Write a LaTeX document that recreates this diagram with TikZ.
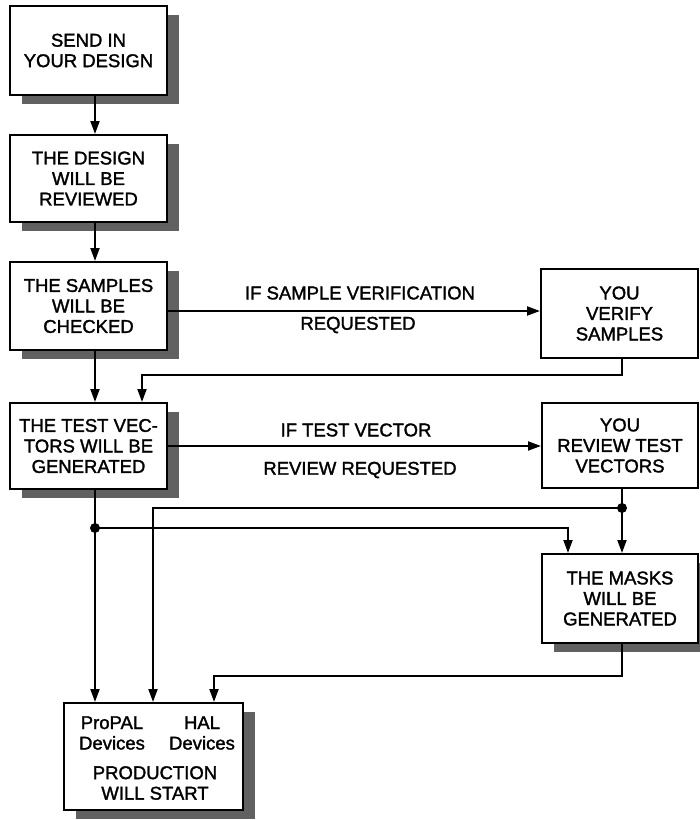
\documentclass[tikz,border=0pt]{standalone}
\usepackage{fontspec}
\setmainfont{Liberation Sans}
\newfontfamily\heavy{Liberation Sans}[FakeBold=1.6]
\usetikzlibrary{arrows.meta,shadows}
\begin{document}
\begin{tikzpicture}[x=1pt,y=-1pt,
  box/.style={draw, line width=2pt, fill=white, align=center, inner sep=0pt, font=\heavy\fontsize{18.5}{20.5}\selectfont},
  shd/.style={drop shadow={shadow xshift=12pt, shadow yshift=-9pt, fill=black!62, opacity=1}},
  conn/.style={line width=2pt},
  arr/.style={conn, -{Triangle[length=13pt,width=9pt]}},
  lbl/.style={font=\heavy\fontsize{18.5}{20.5}\selectfont, inner sep=0pt, align=center},
  dotm/.style={circle, fill=black, inner sep=0pt, minimum size=10pt}]
\fill[white] (0,0) rectangle (700,820);
\useasboundingbox (0,0) rectangle (700,820);
% columns and rows
\coordinate (xa) at (95,0);
\coordinate (xb) at (142,0);
\coordinate (xc) at (153,0);
\coordinate (xd) at (214,0);
\coordinate (xe) at (568,0);
\coordinate (xf) at (622,0);
\coordinate (ya) at (0,311);
\coordinate (yb) at (0,375);
\coordinate (yc) at (0,508);
\coordinate (yd) at (0,528);
\coordinate (ye) at (0,676);
\coordinate (yf) at (0,446);
% boxes
\node[box, shd, minimum width=157pt, minimum height=89pt] (b1) at (88.5,50.5) {SEND IN\\YOUR DESIGN};
\node[box, shd, minimum width=157pt, minimum height=87pt] (b2) at (88.5,178.5) {THE DESIGN\\WILL BE\\REVIEWED};
\node[box, shd, minimum width=157pt, minimum height=88pt] (b3) at (88.5,306) {THE SAMPLES\\WILL BE\\CHECKED};
\node[box, shd, minimum width=157pt, minimum height=86pt] (b4) at (88.5,446) {THE TEST VEC-\\TORS WILL BE\\GENERATED};
\node[box, minimum width=157pt, minimum height=89pt] (ver) at (619.5,313.5) {YOU\\VERIFY\\SAMPLES};
\node[box, minimum width=156pt, minimum height=85pt] (rev) at (620,445.5) {YOU\\REVIEW TEST\\VECTORS};
\node[box, shd, minimum width=156pt, minimum height=89pt] (mask) at (620,598.5) {THE MASKS\\WILL BE\\GENERATED};
\node[box, shd, minimum width=179pt, minimum height=107pt] (prod) at (153.5,756.5) {};
\node[lbl] (p1) at (112,733) {ProPAL\\Devices};
\node[lbl] (p2) at (202,733) {HAL\\Devices};
\node[lbl] (p3) at (155,783) {PRODUCTION\\WILL START};
% labels
\node[lbl] (l1) at (360,293) {IF SAMPLE VERIFICATION};
\node[lbl] (l2) at (358,325) {REQUESTED};
\node[lbl] (l3) at (356,430) {IF TEST VECTOR};
\node[lbl] (l4) at (360,470) {REVIEW REQUESTED};
% connectors
\draw[arr] (b1.south -| xa) -- (b2.north -| xa);
\draw[arr] (b2.south -| xa) -- (b3.north -| xa);
\draw[arr] (b3.south -| xa) -- (b4.north -| xa);
\draw[arr] (b3.east |- ya) -- (ver.west |- ya);
\draw[arr] (ver.south -| xf) -- (xf |- yb) -- (xb |- yb) -- (b4.north -| xb);
\draw[arr] (b4.east |- yf) -- (rev.west |- yf);
\draw[arr] (b4.south -| xa) -- (prod.north -| xa);
\node[dotm] (d1) at (xa |- yd) {};
\draw[arr] (d1.center) -- (xe |- yd) -- (mask.north -| xe);
\draw[conn] (rev.south -| xf) -- (xf |- yc);
\node[dotm] (d2) at (xf |- yc) {};
\draw[arr] (d2.center) -- (mask.north -| xf);
\draw[arr] (d2.center) -- (xc |- yc) -- (prod.north -| xc);
\draw[arr] (mask.south -| xf) -- (xf |- ye) -- (xd |- ye) -- (prod.north -| xd);
\end{tikzpicture}
\end{document}
